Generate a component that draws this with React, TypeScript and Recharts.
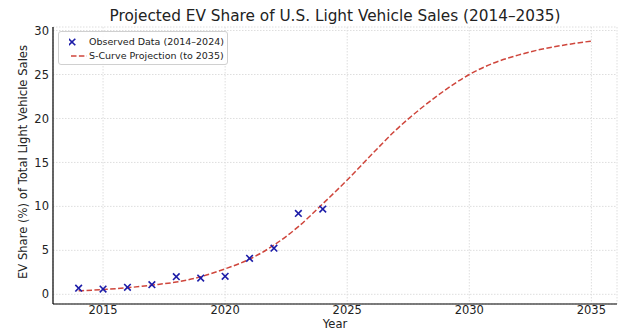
import React from 'react';
import {
  ComposedChart,
  Line,
  Scatter,
  XAxis,
  YAxis,
  CartesianGrid,
} from 'recharts';

const projectionYears = [
  2014, 2015, 2016, 2017, 2018, 2019, 2020, 2021, 2022, 2023, 2024,
  2025, 2026, 2027, 2028, 2029, 2030, 2031, 2032, 2033, 2034, 2035,
];
const projectionShare = [
  0.4, 0.55, 0.75, 1.05, 1.4, 2.0, 2.9, 4.0, 5.6, 7.7, 10.3,
  13.0, 15.9, 18.7, 21.1, 23.2, 25.0, 26.3, 27.2, 27.9, 28.4, 28.8,
];

const observedYears = [2014, 2015, 2016, 2017, 2018, 2019, 2020, 2021, 2022, 2023, 2024];
const observedShare = [0.7, 0.6, 0.8, 1.1, 2.0, 1.85, 2.05, 4.1, 5.25, 9.2, 9.7];

const xTicks = [2015, 2020, 2025, 2030, 2035];
const yTicks = [0, 5, 10, 15, 20, 25, 30];

const FONT = '"DejaVu Sans", sans-serif';
const LINE_COLOR = '#cf463c';
const MARK_COLOR = '#1c1ca8';

const projectionData = projectionYears.map((year, i) => ({ year, projection: projectionShare[i] }));
const observedData = observedYears.map((year, i) => ({ year, observed: observedShare[i] }));

const XMark = (props: any) => {
  const { cx, cy } = props;
  const s = 3.3;
  return (
    <g stroke={MARK_COLOR} strokeWidth={1.6}>
      <line x1={cx - s} y1={cy - s} x2={cx + s} y2={cy + s} />
      <line x1={cx - s} y1={cy + s} x2={cx + s} y2={cy - s} />
    </g>
  );
};

export default function App() {
  return (
    <div
      style={{
        position: 'absolute',
        left: 0,
        top: 0,
        width: 640,
        height: 330,
        background: '#fff',
        fontFamily: FONT,
        overflow: 'hidden',
      }}
    >
      <ComposedChart
        width={640}
        height={330}
        margin={{ top: 27, right: 23, bottom: 0, left: 23 }}
      >
        <CartesianGrid stroke="#dedede" strokeDasharray="1.5 1.5" />
        <XAxis
          dataKey="year"
          type="number"
          domain={[2012.95, 2036.05]}
          ticks={xTicks}
          allowDataOverflow
          height={26}
          tickLine={false}
          tickSize={0}
          tickMargin={2}
          axisLine={{ stroke: '#000', strokeWidth: 1.2 }}
          tick={{ fontSize: 11.5, fill: '#222', fontFamily: FONT }}
        />
        <YAxis
          type="number"
          domain={[-1.1, 30.4]}
          ticks={yTicks}
          allowDataOverflow
          width={30}
          tickLine={false}
          tickSize={0}
          tickMargin={4}
          axisLine={{ stroke: '#000', strokeWidth: 1.2 }}
          tick={{ fontSize: 11.5, fill: '#222', fontFamily: FONT }}
        />
        <Line
          data={projectionData}
          dataKey="projection"
          type="monotone"
          stroke={LINE_COLOR}
          strokeWidth={1.5}
          strokeDasharray="5.5 2.4"
          dot={false}
          activeDot={false}
          isAnimationActive={false}
        />
        <Scatter
          data={observedData}
          dataKey="observed"
          shape={XMark}
          isAnimationActive={false}
        />
      </ComposedChart>

      <div
        style={{
          position: 'absolute',
          left: 53,
          width: 564,
          top: 7,
          textAlign: 'center',
          fontSize: 15.3,
          color: '#222',
          lineHeight: '18px',
        }}
      >
        Projected EV Share of U.S. Light Vehicle Sales (2014–2035)
      </div>

      <div
        style={{
          position: 'absolute',
          left: 23 - 140,
          top: 162 - 7,
          width: 280,
          textAlign: 'center',
          fontSize: 11.6,
          lineHeight: '14px',
          color: '#222',
          transform: 'rotate(-90deg)',
        }}
      >
        EV Share (%) of Total Light Vehicle Sales
      </div>

      <div
        style={{
          position: 'absolute',
          left: 53,
          width: 564,
          top: 318,
          textAlign: 'center',
          fontSize: 11.5,
          lineHeight: '12px',
          color: '#222',
        }}
      >
        Year
      </div>

      <div
        style={{
          position: 'absolute',
          left: 58,
          top: 31,
          width: 168,
          height: 32,
          border: '1px solid #d0d0d0',
          borderRadius: 3,
          background: 'rgba(255,255,255,0.85)',
          fontSize: 9.5,
          color: '#222',
        }}
      >
        <svg width={20} height={32} style={{ position: 'absolute', left: 10, top: 0 }}>
          <XMark cx={3} cy={10} />
          <line x1={2} y1={24} x2={18} y2={24} stroke={LINE_COLOR} strokeWidth={1.5} strokeDasharray="5.5 2.4" />
        </svg>
        <div style={{ position: 'absolute', left: 30, top: 3, lineHeight: '13px' }}>Observed Data (2014–2024)</div>
        <div style={{ position: 'absolute', left: 30, top: 17, lineHeight: '13px' }}>S-Curve Projection (to 2035)</div>
      </div>
    </div>
  );
}
